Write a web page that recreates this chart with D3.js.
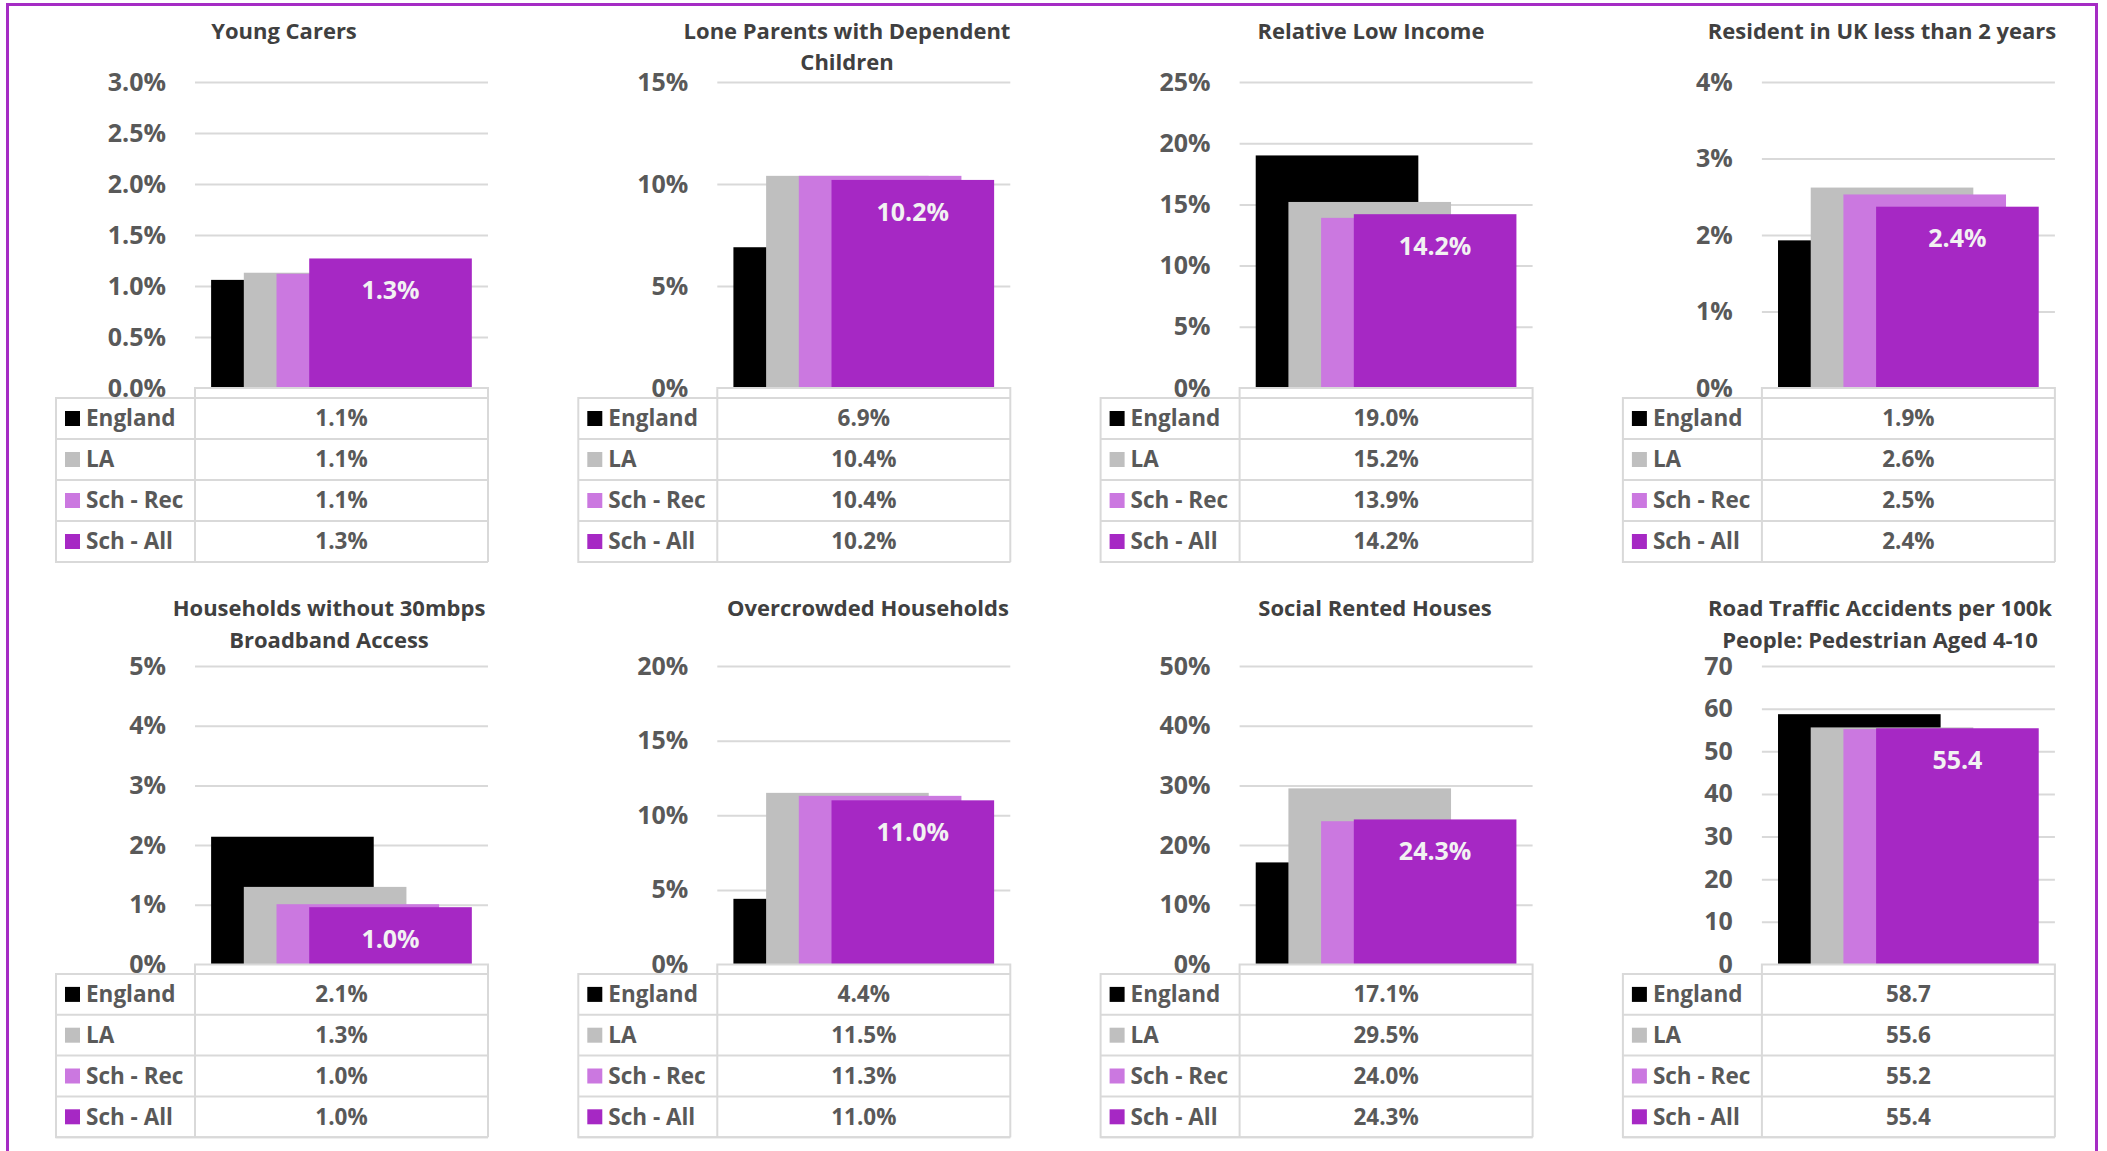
<!DOCTYPE html>
<html>
<head>
<meta charset="utf-8">
<script src="https://cdn.jsdelivr.net/npm/d3@7"></script>
<style>
  body { margin: 0; background: #fff; }
  svg { display: block; font-family: "Open Sans", "Noto Sans", sans-serif; font-weight: 700; }
</style>
</head>
<body>
<svg id="viz"></svg>
<script>

  // ---------------------------//
  //            DATA            //
  // ---------------------------//

    var seriesNames = ["England", "LA", "Sch - Rec", "Sch - All"];

    var chartTitles = [
        ["Young Carers"],
        ["Lone Parents with Dependent", "Children"],
        ["Relative Low Income"],
        ["Resident in UK less than 2 years"],
        ["Households without 30mbps", "Broadband Access"],
        ["Overcrowded Households"],
        ["Social Rented Houses"],
        ["Road Traffic Accidents per 100k", "People: Pedestrian Aged 4-10"]
    ];

    var england = [1.06, 6.9, 19.0, 1.93, 2.14, 4.4, 17.1, 58.7];
    var la      = [1.13, 10.4, 15.2, 2.62, 1.30, 11.5, 29.5, 55.6];
    var schRec  = [1.12, 10.4, 13.9, 2.53, 1.01, 11.3, 24.0, 55.2];
    var schAll  = [1.27, 10.2, 14.2, 2.37, 0.96, 11.0, 24.3, 55.4];

    // y axis: max, step, decimals of tick labels, unit
    var axisMax      = [3, 15, 25, 4, 5, 20, 50, 70];
    var axisStep     = [0.5, 5, 5, 1, 1, 5, 10, 10];
    var tickDecimals = [1, 0, 0, 0, 0, 0, 0, 0];
    var units        = ["%", "%", "%", "%", "%", "%", "%", ""];

  // ---------------------------//
  //         DIMENSIONS         //
  // ---------------------------//

    var width = 2107;
    var height = 1151;

    var colX0 = 195, colGap = 522.3, plotW = 293, labelColW = 139;
    var rows = [
        { plotTop: 82,  plotBottom: 388,   tableTop: 398, rowH: 41,   titleY: [31, 62] },
        { plotTop: 666, plotBottom: 964.5, tableTop: 974, rowH: 40.8, titleY: [608, 640] }
    ];
    var titleCx = [284, 847, 1371, 1882, 329, 868, 1375, 1880];

  // ---------------------------//
  //           COLORS           //
  // ---------------------------//

    var colorScale = d3.scaleOrdinal()
        .domain(seriesNames)
        .range(["#000000", "#bfbfbf", "#cb78e0", "#a628c4"]);
    var textGrey = "#595959", titleGrey = "#404040", lineGrey = "#d9d9d9";

  // ---------------------------//
  //          CONTAINER         //
  // ---------------------------//

    var svg = d3.select("#viz")
        .attr("width", width)
        .attr("height", height);

    // purple frame
    svg.append("rect")
        .attr("x", 7.5).attr("y", 4.5)
        .attr("width", 2089).attr("height", 1200)
        .attr("fill", "none")
        .attr("stroke", "#a52cc4")
        .attr("stroke-width", 3);

  // ---------------------------//
  //           PANELS           //
  // ---------------------------//

    var seriesData = [england, la, schRec, schAll];

    chartTitles.forEach(function(title, i) {
        var row = rows[Math.floor(i / 4)];
        var pl = colX0 + (i % 4) * colGap;
        var pr = pl + plotW;
        var g = svg.append("g");

        var fmt = function(v, dec) { return v.toFixed(dec) + units[i]; };

        // y scale
        var y = d3.scaleLinear()
            .domain([0, axisMax[i]])
            .range([row.plotBottom, row.plotTop]);
        var ticks = d3.range(0, axisMax[i] + axisStep[i] / 2, axisStep[i]);

        // gridlines
        var grid = g.append("g")
            .attr("transform", "translate(" + pl + ",0)")
            .call(d3.axisLeft(y).tickValues(ticks.slice(1)).tickSize(-plotW).tickFormat(""));
        grid.select(".domain").remove();
        grid.selectAll("line").attr("stroke", lineGrey).attr("stroke-width", 2);

        // tick labels
        var ax = g.append("g")
            .attr("transform", "translate(" + (pl - 29) + ",0)")
            .call(d3.axisLeft(y).tickValues(ticks).tickSize(0).tickPadding(0)
                .tickFormat(function(d) { return fmt(d, tickDecimals[i]); }));
        ax.select(".domain").remove();
        ax.selectAll("text")
            .attr("fill", textGrey)
            .style("font-family", "'Open Sans', sans-serif")
            .style("font-weight", 700)
            .style("font-size", "25px");

        // bars (overlapping, drawn England first)
        var step = plotW * 0.1116;
        var xb = d3.scaleBand()
            .domain(seriesNames)
            .range([pl + plotW * 0.055, pl + plotW * 0.055 + 4 * step]);
        var barW = plotW * 0.555;

        var vals = seriesNames.map(function(s, k) { return { key: s, value: seriesData[k][i] }; });

        g.selectAll(".bar")
            .data(vals)
            .enter().append("rect")
            .attr("x", function(d) { return xb(d.key); })
            .attr("y", function(d) { return y(d.value); })
            .attr("width", barW)
            .attr("height", function(d) { return y(0) - y(d.value); })
            .attr("fill", function(d) { return colorScale(d.key); });

        // data label on Sch - All
        var last = vals[3];
        g.append("text")
            .attr("x", xb(last.key) + barW / 2)
            .attr("y", y(last.value) + 32)
            .attr("dy", "0.35em")
            .attr("text-anchor", "middle")
            .attr("fill", "#f2f2f2")
            .style("font-size", "25px")
            .text(fmt(last.value, 1));

        // title
        title.forEach(function(line, li) {
            g.append("text")
                .attr("x", titleCx[i])
                .attr("y", row.titleY[li])
                .attr("dy", "0.35em")
                .attr("text-anchor", "middle")
                .attr("fill", titleGrey)
                .style("font-size", "22px")
                .text(line);
        });

  // ---------------------------//
  //         DATA TABLE         //
  // ---------------------------//

        var tl = pl - labelColW;
        var tTop = row.tableTop, rh = row.rowH;
        var tBottom = tTop + 4 * rh;
        var tg = g.append("g")
            .attr("fill", "none")
            .attr("stroke", lineGrey)
            .attr("stroke-width", 2);

        // header cell above value column
        tg.append("path").attr("d",
            "M" + pl + "," + tBottom + "V" + row.plotBottom + "H" + pr + "V" + tBottom);
        // label column outer
        tg.append("path").attr("d",
            "M" + pl + "," + tTop + "H" + tl + "V" + tBottom + "H" + pr);
        // row lines
        d3.range(1, 5).forEach(function(r) {
            tg.append("line")
                .attr("x1", tl).attr("x2", pr)
                .attr("y1", tTop + r * rh).attr("y2", tTop + r * rh);
        });
        tg.append("line")
            .attr("x1", pl).attr("x2", pr)
            .attr("y1", tTop).attr("y2", tTop);

        var rowsG = g.selectAll(".trow")
            .data(vals)
            .enter().append("g")
            .attr("transform", function(d, r) {
                return "translate(0," + (tTop + r * rh + rh / 2) + ")";
            });

        rowsG.append("rect")
            .attr("x", tl + 9)
            .attr("y", -7.5)
            .attr("width", 15)
            .attr("height", 15)
            .attr("fill", function(d) { return colorScale(d.key); });

        rowsG.append("text")
            .attr("x", tl + 30)
            .attr("dy", "0.35em")
            .attr("fill", textGrey)
            .style("font-size", "22.5px")
            .text(function(d) { return d.key; });

        rowsG.append("text")
            .attr("x", pl + plotW / 2)
            .attr("dy", "0.35em")
            .attr("text-anchor", "middle")
            .attr("fill", textGrey)
            .style("font-size", "22.5px")
            .text(function(d) { return fmt(d.value, 1); });
    });

</script>
</body>
</html>
